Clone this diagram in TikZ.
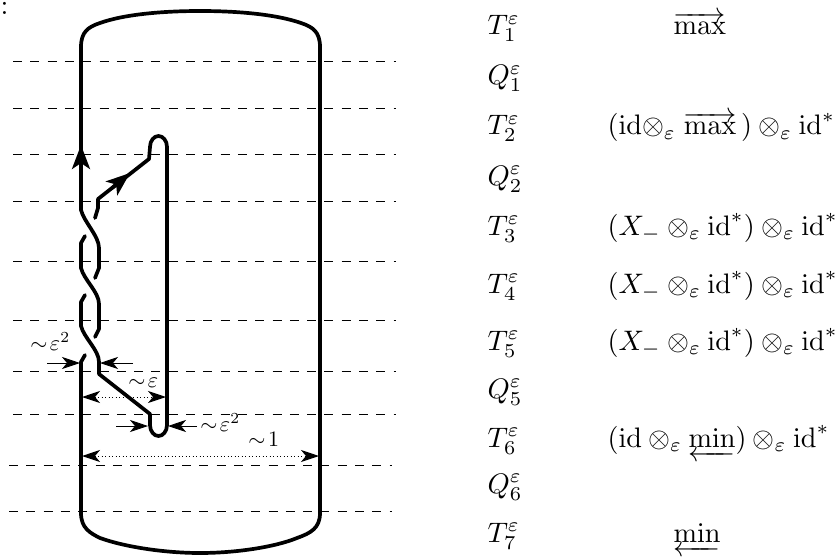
\documentclass[tikz,border=0pt]{standalone}
\usepackage{amsmath,amssymb,amsfonts}
\usepackage{xcolor}
\usetikzlibrary{positioning, arrows.meta, calc}
\tikzset{
  strandline/.style={
    line width=1.3mm,
    line cap=round,
    line join=round
  },
  levelline/.style={
    line width=0.7pt,
    dash pattern=on 9pt off 8.3pt
  },
  bigtip/.style={
    -{Stealth[length=24pt,width=18pt,inset=6pt]}
  },
  widtharrow/.style={
    line width=0.8pt,
    -{Stealth[length=18pt,width=12pt,inset=5pt]}
  },
  dottedarrow/.style={
    line width=1pt,
    dash pattern=on 1pt off 2.5pt,
    {Stealth[length=18pt,width=12pt,inset=5pt]}-{Stealth[length=18pt,width=12pt,inset=5pt]}
  },
  sizelabel/.style={
    scale=2.2,
    transform shape,
    inner sep=0pt,
    anchor=base west
  },
  rowlabel/.style={
    scale=2.82,
    transform shape,
    inner sep=0pt,
    anchor=base west
  }
}

\begin{document}
\begin{tikzpicture}[x=1pt,y=-1pt]
  \useasboundingbox (0,0) rectangle (840,559);
  % level lines
  \foreach \y in {61,108,154,201,261,320,371,414}
    \draw[levelline] (13,\y) -- (396,\y);
  \foreach \y in {465,511}
    \draw[levelline] (9,\y) -- (392,\y);
  % outer circle
  \draw[strandline] (81,205) -- (81,47) .. controls (81,32) and (88,27) .. (100,23)
    .. controls (125,14) and (165,11) .. (200,11)
    .. controls (236,11) and (275,14) .. (301,23)
    .. controls (313,27) and (320,32) .. (320,47) -- (320,513)
    .. controls (320,528) and (311,533) .. (297,538)
    .. controls (275,547) and (236,553) .. (200,553)
    .. controls (165,553) and (125,547) .. (100,538)
    .. controls (90,533) and (81,528) .. (81,513) -- (81,362) -- (85,355);
  % crossings
  \draw[strandline] (81,205) -- (81,210) .. controls (84,222) and (99,236) .. (99,248)
    -- (99,268) -- (95,278);
  \draw[strandline] (85,236) -- (81,243) -- (81,268) .. controls (84,280) and (99,292) .. (99,304)
    -- (99,329) -- (95,337);
  \draw[strandline] (85,295) -- (81,302) -- (81,326) .. controls (84,338) and (99,350) .. (99,362)
    -- (99,374) -- (150,414) -- (150,425) arc[start angle=180,end angle=360,x radius=8.5,y radius=-11]
    -- (167,147) arc[start angle=0,end angle=180,x radius=8.5,y radius=-11]
    -- (149,159) -- (98,199) -- (98,208) -- (95,218);
  % orientation
  \draw[strandline,line cap=butt,bigtip] (81,175) -- (81,145);
  \draw[strandline,line cap=butt,bigtip] (112,188) -- (130,173);
  % widths
  \draw[widtharrow] (47,363) -- (80,363);
  \draw[widtharrow] (133,363) -- (100,363);
  \draw[dottedarrow] (82,397) -- (166,397);
  \draw[widtharrow] (116,426) -- (148,426);
  \draw[widtharrow] (197,426) -- (168,426);
  \draw[dottedarrow] (82,456) -- (319,456);
  \node[sizelabel] (epsleft) at (30,350) {$\sim\!\varepsilon^2$};
  \node[sizelabel] (epsmid) at (128,387) {$\sim\!\varepsilon$};
  \node[sizelabel] (epsright) at (200,431) {$\sim\!\varepsilon^2$};
  \node[sizelabel] (unit) at (248,446) {$\sim\!1$};
  \node[rowlabel] (colon) at (0,14.5) {:};
  % rows
  \node[rowlabel] (t1) at (487,35) {$T_1^\varepsilon$};
  \node[rowlabel] (q1) at (487,85) {$Q_1^\varepsilon$};
  \node[rowlabel] (t2) at (487,135) {$T_2^\varepsilon$};
  \node[rowlabel] (q2) at (487,185) {$Q_2^\varepsilon$};
  \node[rowlabel] (t3) at (487,235) {$T_3^\varepsilon$};
  \node[rowlabel] (t4) at (487,293) {$T_4^\varepsilon$};
  \node[rowlabel] (t5) at (487,350) {$T_5^\varepsilon$};
  \node[rowlabel] (q5) at (487,398) {$Q_5^\varepsilon$};
  \node[rowlabel] (t6) at (487,447) {$T_6^\varepsilon$};
  \node[rowlabel] (q6) at (487,493) {$Q_6^\varepsilon$};
  \node[rowlabel] (t7) at (487,542) {$T_7^\varepsilon$};
  \node[rowlabel] (max1) at (673,35) {$\overrightarrow{\mathrm{max}}$};
  \node[rowlabel] (max2) at (607,135) {$(\mathrm{id}{\otimes}_\varepsilon\;\overrightarrow{\mathrm{max}}\,)\otimes_\varepsilon \mathrm{id}^*$};
  \node[rowlabel] (x3) at (607,235) {$(X_-\otimes_\varepsilon \mathrm{id}^*)\otimes_\varepsilon \mathrm{id}^*$};
  \node[rowlabel] (x4) at (607,293) {$(X_-\otimes_\varepsilon \mathrm{id}^*)\otimes_\varepsilon \mathrm{id}^*$};
  \node[rowlabel] (x5) at (607,350) {$(X_-\otimes_\varepsilon \mathrm{id}^*)\otimes_\varepsilon \mathrm{id}^*$};
  \node[rowlabel] (min6) at (607,447) {$(\mathrm{id}\otimes_\varepsilon \underleftarrow{\mathrm{min}})\otimes_\varepsilon \mathrm{id}^*$};
  \node[rowlabel] (min7) at (673,542) {$\underleftarrow{\mathrm{min}}$};
\end{tikzpicture}
\end{document}
